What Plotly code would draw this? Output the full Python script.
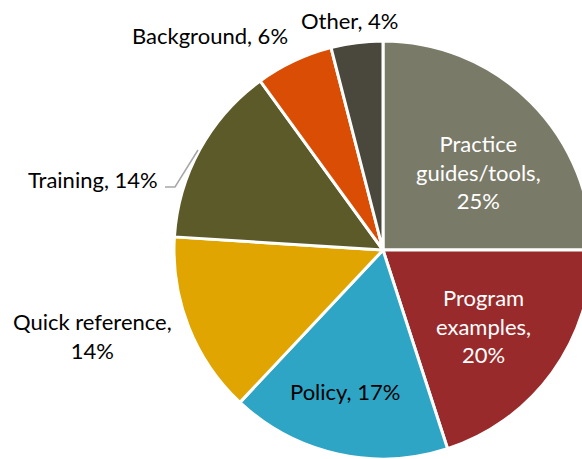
import plotly.graph_objects as go

# share of resources by type, clockwise from 12 o'clock
categories = ["Practice guides/tools", "Program examples", "Policy",
              "Quick reference", "Training", "Background", "Other"]
shares = [25, 20, 17, 14, 14, 6, 4]
slice_colors = ["#7a7a69", "#992a2b", "#2ea5c5", "#e0a500",
                "#5c5a29", "#d94e04", "#4a483c"]

W, H = 600, 459
FONT = "Lato, Calibri, sans-serif"


def px(x, y):
    # screen pixel -> paper coords
    return x / W, 1 - y / H


cx, cy, r = 383, 250, 209
fig = go.Figure(go.Pie(
    labels=categories,
    values=shares,
    sort=False,
    direction="clockwise",
    rotation=0,
    textinfo="none",
    hoverinfo="label+percent",
    marker=dict(colors=slice_colors, line=dict(color="white", width=3)),
    domain=dict(x=[(cx - r) / W, (cx + r) / W],
                y=[1 - (cy + r) / H, 1 - (cy - r) / H]),
))

# label placement (pixel centres) and text colour
label_pos = {
    "Practice guides/tools": (478, 172, "white", "Practice<br>guides/tools,<br>{}%"),
    "Program examples": (483, 326, "white", "Program<br>examples,<br>{}%"),
    "Policy": (345, 391, "black", "Policy, {}%"),
    "Quick reference": (92, 336, "black", "Quick reference,<br>{}%"),
    "Training": (93, 180, "black", "Training, {}%"),
    "Background": (210, 36, "black", "Background, {}%"),
    "Other": (349, 20, "black", "Other, {}%"),
}

for cat, val in zip(categories, shares):
    x, y, col, fmt = label_pos[cat]
    ax, ay = px(x, y)
    fig.add_annotation(x=ax, y=ay, xref="paper", yref="paper",
                       text=fmt.format(val), showarrow=False,
                       xanchor="center", yanchor="middle", borderpad=0,
                       font=dict(family=FONT, size=22, color=col))

# leader line for Training
p = [px(165, 187), px(175, 187), px(198, 150)]
fig.add_shape(type="path", xref="paper", yref="paper",
              path="M {} {} L {} {} L {} {}".format(p[0][0], p[0][1], p[1][0], p[1][1], p[2][0], p[2][1]),
              line=dict(color="#a6a6a6", width=1.5))

fig.update_layout(
    width=W, height=H,
    margin=dict(l=0, r=0, t=0, b=0),
    showlegend=False,
    paper_bgcolor="white",
    plot_bgcolor="white",
)

# pie runs past the right edge in the original, so let the page clip it
fig.write_html("out.html",
               config={"displayModeBar": False},
               post_script="document.body.style.margin='0';"
                           "document.body.style.overflow='hidden';")
